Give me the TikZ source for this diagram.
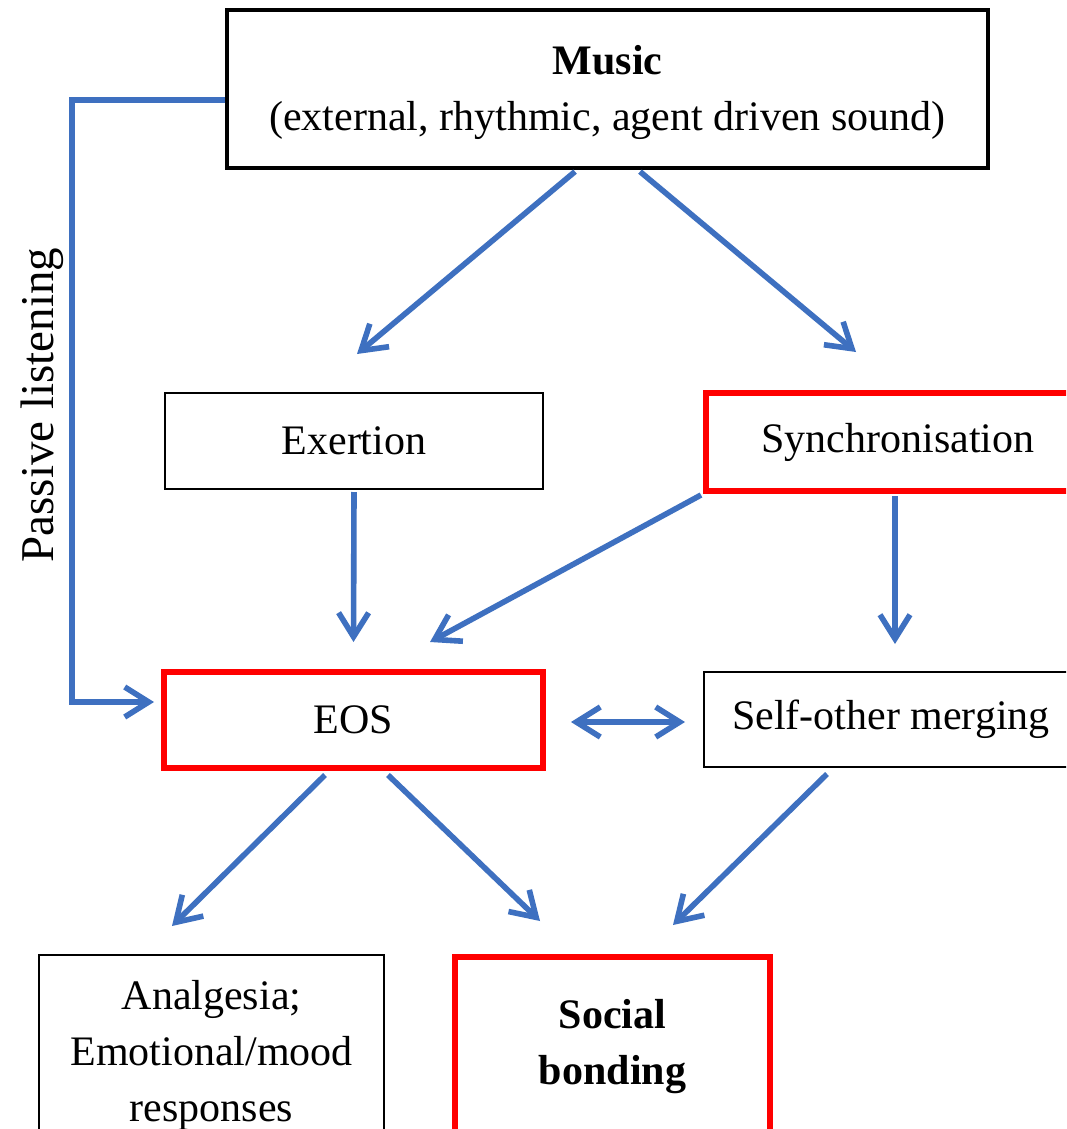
\documentclass[tikz,border=0pt]{standalone}
\usepackage{fontspec}
\setmainfont{Liberation Serif}
\usetikzlibrary{arrows.meta,calc}
\definecolor{arrowblue}{RGB}{62,112,192}
\definecolor{boxred}{RGB}{255,0,0}
\begin{document}
\begin{tikzpicture}[x=0.5pt,y=-0.5pt,
  txt/.style={font=\fontsize{21}{28}\selectfont, align=center, inner sep=0pt},
  plainbox/.style={txt, draw=black, line width=1pt, rectangle},
  musicbox/.style={txt, draw=black, line width=1.6pt, rectangle},
  redbox/.style={txt, draw=boxred, line width=3pt, rectangle},
  tipb/.tip={Straight Barb[length=12pt,width=15pt,line width=2.8pt]},
  conn/.style={draw=arrowblue, line width=2.8pt, -tipb},
  conn2/.style={draw=arrowblue, line width=2.8pt, tipb-tipb}
]
\useasboundingbox (0,0) rectangle (1066,1129);
\clip (0,0) rectangle (1066,1129);
\fill[white] (0,0) rectangle (1066,1129);

\node[musicbox, minimum width=380.5pt, minimum height=79pt] (music) at (607.5,89)
  {\rule{0pt}{18.5pt}\textbf{Music}\\(external, rhythmic, agent driven sound)};
\node[plainbox, minimum width=189pt, minimum height=48pt] (exertion) at (354,441) {Exertion};
\node[redbox, minimum width=192pt, minimum height=49pt] (sync) at (898,442) {Synchronisation};
\node[redbox, minimum width=189.5pt, minimum height=48pt] (eos) at (353.5,720) {EOS};
\node[plainbox, minimum width=187pt, minimum height=47.5pt] (self) at (891,719.5) {Self-other merging};
\node[plainbox, minimum width=172.5pt, minimum height=100pt] (analg) at (211.5,1055)
  {Analgesia;\\Emotional/mood\\responses};
\node[redbox, minimum width=157.5pt, minimum height=90pt] (social) at (612.5,1047)
  {\textbf{Social}\\\textbf{bonding}};

\node[font=\fontsize{23.5}{28}\selectfont, rotate=90, inner sep=0pt] (passive) at (42,405) {Passive listening};

\draw[conn] ($(music.south)+(-32.5,2)$) -- ($(exertion.north)+(3,-38)$);
\draw[conn] ($(music.south)+(32.5,2)$) -- ($(sync.north)+(-42,-38)$);
\draw[conn] ($(exertion.south)+(0,2)$) -- ($(eos.north)+(0,-27)$);
\draw[conn] ($(sync.south west)+(-2,1)$) -- ($(eos.north)+(76.5,-27)$);
\draw[conn] ($(sync.south)+(-3,2)$) -- ($(self.north)+(4,-27)$);
\draw[conn2] ($(eos.east)+(25,2)$) -- ($(self.west)+(-18,2.5)$);
\draw[conn] ($(eos.south)+(-28.5,4)$) -- ($(analg.north)+(-39.5,-28)$);
\draw[conn] ($(eos.south)+(34.5,4)$) -- ($(social.north)+(-72.5,-33)$);
\draw[conn] ($(self.south)+(-64,6)$) -- ($(social.north)+(60.5,-29)$);
\draw[conn] ($(music.west)+(0,11)$) -| (72,702) -- ($(eos.west)+(-7,-18)$);
\end{tikzpicture}
\end{document}
